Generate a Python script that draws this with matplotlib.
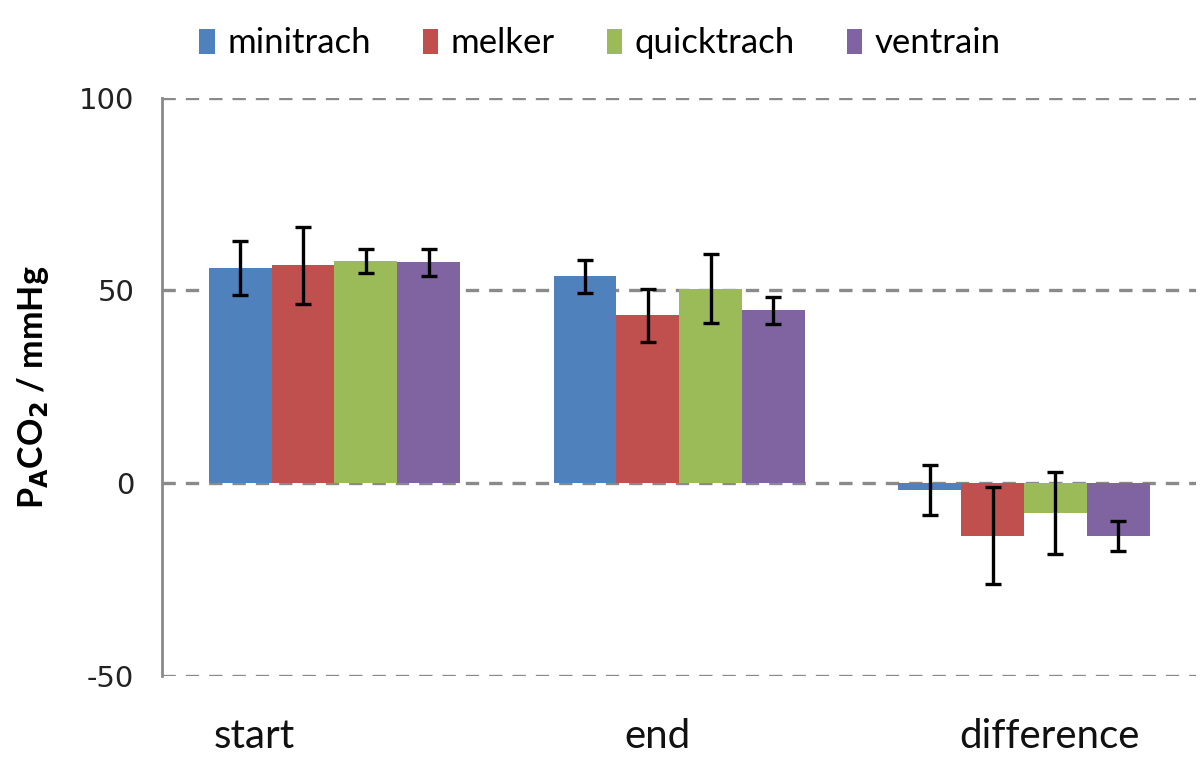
import numpy as np
import matplotlib
matplotlib.use("Agg")
import matplotlib.pyplot as plt

# data
categories = ["start", "end", "difference"]
devices = ["minitrach", "melker", "quicktrach", "ventrain"]
minitrach = [55.9, 53.7, -1.7]
melker = [56.5, 43.5, -13.6]
quicktrach = [57.6, 50.5, -7.8]
ventrain = [57.3, 44.8, -13.7]
minitrach_err = [7.0, 4.3, 6.5]
melker_err = [10.0, 6.8, 12.6]
quicktrach_err = [3.2, 9.0, 10.6]
ventrain_err = [3.5, 3.5, 3.9]
yticks = [-50, 0, 50, 100]

COLORS = ["#4F81BD", "#C0504D", "#9BBB59", "#8064A2"]
BAR_W = 0.182
LABEL_SHIFT = [-0.233, -0.064, 0.073]   # category labels are off-centre in the original

plt.rcParams["font.family"] = ["Lato", "DejaVu Sans"]

fig = plt.figure(figsize=(12, 7.57), dpi=100)
ax = fig.add_axes([0.135, 0.107, 0.862, 0.764])

x = np.arange(len(categories))
series = [minitrach, melker, quicktrach, ventrain]
errs = [minitrach_err, melker_err, quicktrach_err, ventrain_err]
for i, (name, vals, err, col) in enumerate(zip(devices, series, errs, COLORS)):
    pos = x + (i - 1.5) * BAR_W
    ax.bar(pos, vals, BAR_W, color=col, label=name, zorder=2)
    ax.errorbar(pos, vals, yerr=err, fmt="none", ecolor="black", elinewidth=2.4,
                capsize=6, capthick=2.4, zorder=3)

ax.set_xlim(-0.5, 2.5)
ax.set_ylim(-50, 100)
ax.set_yticks(yticks)
ax.set_yticklabels([str(t) for t in yticks], fontsize=21, color="#222222",
                   family="DejaVu Sans")
for t in yticks:
    ax.axhline(t, color="#8a8a8a", lw=2.4, ls=(0, (4, 3)), zorder=1)

ax.set_xticks(x + np.array(LABEL_SHIFT))
ax.set_xticklabels(categories, fontsize=29, color="#111111")
ax.tick_params(axis="x", length=0, pad=30)
ax.tick_params(axis="y", length=0, pad=20)

for s in ("top", "right", "bottom"):
    ax.spines[s].set_visible(False)
ax.spines["left"].set_color("#8a8a8a")
ax.spines["left"].set_linewidth(2)

ax.set_ylabel(r"P$_\mathbf{A}$CO$_\mathbf{2}$ / mmHg", fontsize=24.5, fontweight="bold",
              labelpad=20)

leg = ax.legend(loc="upper center", ncol=4, frameon=False,
                fontsize=25, handlelength=0.45, handleheight=0.75, handletextpad=0.35,
                columnspacing=1.5)
leg.set_bbox_to_anchor((0.5, 1.005), transform=fig.transFigure)

fig.savefig("out.png", dpi=100)
